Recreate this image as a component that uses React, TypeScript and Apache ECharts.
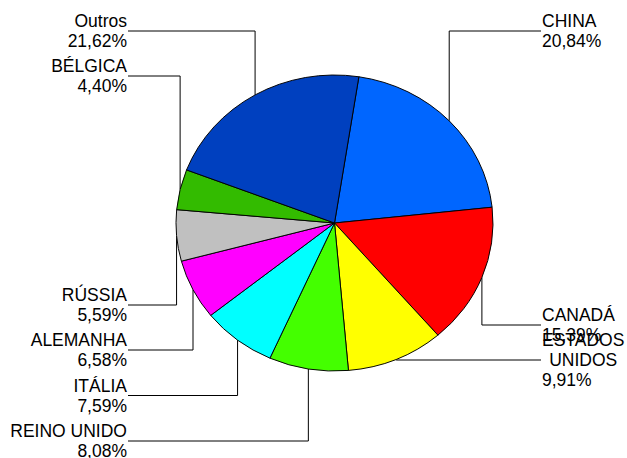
import React, { useEffect, useRef } from 'react';
import * as echarts from 'echarts';

// ---- data ----
const categories = ['CHINA', 'CANADÁ', 'ESTADOS UNIDOS', 'REINO UNIDO', 'ITÁLIA', 'ALEMANHA', 'RÚSSIA', 'BÉLGICA', 'Outros'];
const shares = [20.84, 15.39, 9.91, 8.08, 7.59, 6.58, 5.59, 4.40, 21.62];
const colors = ['#0066FF', '#FF0000', '#FFFF00', '#44FF00', '#00FFFF', '#FF00FF', '#C0C0C0', '#33BB00', '#0040BF'];

// ---- layout ----
const W = 627;
const H = 458;
const CX = 334.5;
const CY = 223;
const RX = 158.5;
const RY = 148;
const K = RY / RX;
const START_ANGLE = 81.15;
const FONT = 'Arial, "Liberation Sans", Helvetica, sans-serif';
const FS = 17.5;
const LH = 20;

const labelPlacement: Record<string, { side: 'left' | 'right'; y: number }> = {
  'CHINA': { side: 'right', y: 31 },
  'CANADÁ': { side: 'right', y: 325 },
  'ESTADOS UNIDOS': { side: 'right', y: 360 },
  'REINO UNIDO': { side: 'left', y: 441 },
  'ITÁLIA': { side: 'left', y: 395.5 },
  'ALEMANHA': { side: 'left', y: 350 },
  'RÚSSIA': { side: 'left', y: 305 },
  'BÉLGICA': { side: 'left', y: 76 },
  'Outros': { side: 'left', y: 31 },
};
const LEFT_TEXT_X = 127;
const LEFT_LINE_X = 128;
const RIGHT_TEXT_X = 542;
const RIGHT_LINE_X = 541;

const fmtPct = (v: number) => v.toFixed(2).replace('.', ',') + '%';

const pieData = categories.map((name, i) => ({ name, value: shares[i] }));

export default function App() {
  const labelRef = useRef<HTMLDivElement>(null);
  const pieRef = useRef<HTMLDivElement>(null);

  useEffect(() => {
    if (!labelRef.current || !pieRef.current) return;
    const labelChart = echarts.init(labelRef.current, null, { renderer: 'svg' });
    const pieChart = echarts.init(pieRef.current, null, { renderer: 'svg' });

    const total = shares.reduce((a, b) => a + b, 0);

    labelChart.setOption({
      animation: false,
      backgroundColor: '#ffffff',
      series: [
        {
          type: 'pie',
          silent: true,
          center: [CX, CY],
          radius: [0, RX],
          startAngle: START_ANGLE,
          clockwise: true,
          avoidLabelOverlap: false,
          data: pieData,
          itemStyle: { color: 'rgba(0,0,0,0)', borderWidth: 0 },
          label: {
            show: true,
            position: 'outside',
            color: '#000',
            fontFamily: FONT,
            fontSize: FS,
            lineHeight: LH,
            formatter: (p: any) => {
              const pct = fmtPct(p.value);
              if (p.name === 'ESTADOS UNIDOS') {
                return '{c|ESTADOS}\n{c|UNIDOS}\n{t|' + pct + '}';
              }
              return '{t|' + p.name + '}\n{t|' + pct + '}';
            },
            rich: {
              c: { align: 'center', fontSize: FS, lineHeight: LH, fontFamily: FONT, color: '#000' },
              t: { fontSize: FS, lineHeight: LH, fontFamily: FONT, color: '#000' },
            },
          },
          labelLine: {
            show: true,
            length: 10,
            length2: 10,
            smooth: false,
            lineStyle: { color: '#000', width: 1 },
          },
          labelLayout: (params: any) => {
            const name = categories[params.dataIndex];
            const pl = labelPlacement[name];
            let ax: number;
            let ay: number;
            const pts = params.labelLinePoints;
            if (pts && pts[0]) {
              ax = pts[0][0];
              ay = CY + (pts[0][1] - CY) * K;
            } else {
              let before = 0;
              for (let i = 0; i < params.dataIndex; i++) before += shares[i];
              const mid = (START_ANGLE - ((before + shares[params.dataIndex] / 2) / total) * 360) * Math.PI / 180;
              ax = CX + RX * Math.cos(mid);
              ay = CY - RY * Math.sin(mid);
            }
            const left = pl.side === 'left';
            const lineX = left ? LEFT_LINE_X : RIGHT_LINE_X;
            return {
              x: left ? LEFT_TEXT_X : RIGHT_TEXT_X,
              y: pl.y,
              align: left ? 'right' : 'left',
              verticalAlign: 'middle',
              labelLinePoints: [[ax, ay], [ax, pl.y], [lineX, pl.y]],
            };
          },
        },
      ],
    });

    pieChart.setOption({
      animation: false,
      backgroundColor: 'transparent',
      series: [
        {
          type: 'pie',
          silent: true,
          center: [CX, CY],
          radius: [0, RX],
          startAngle: START_ANGLE,
          clockwise: true,
          data: pieData.map((d, i) => ({ ...d, itemStyle: { color: colors[i] } })),
          itemStyle: { borderColor: '#000', borderWidth: 1 },
          label: { show: false },
          labelLine: { show: false },
        },
      ],
    });

    return () => {
      labelChart.dispose();
      pieChart.dispose();
    };
  }, []);

  return (
    <div style={{ position: 'fixed', left: 0, top: 0, width: W, height: H, background: '#fff', overflow: 'hidden' }}>
      <div ref={labelRef} style={{ position: 'absolute', left: 0, top: 0, width: W, height: H }} />
      <div
        ref={pieRef}
        style={{
          position: 'absolute',
          left: 0,
          top: 0,
          width: W,
          height: H,
          transform: `scaleY(${K})`,
          transformOrigin: `${CX}px ${CY}px`,
          pointerEvents: 'none',
        }}
      />
    </div>
  );
}
